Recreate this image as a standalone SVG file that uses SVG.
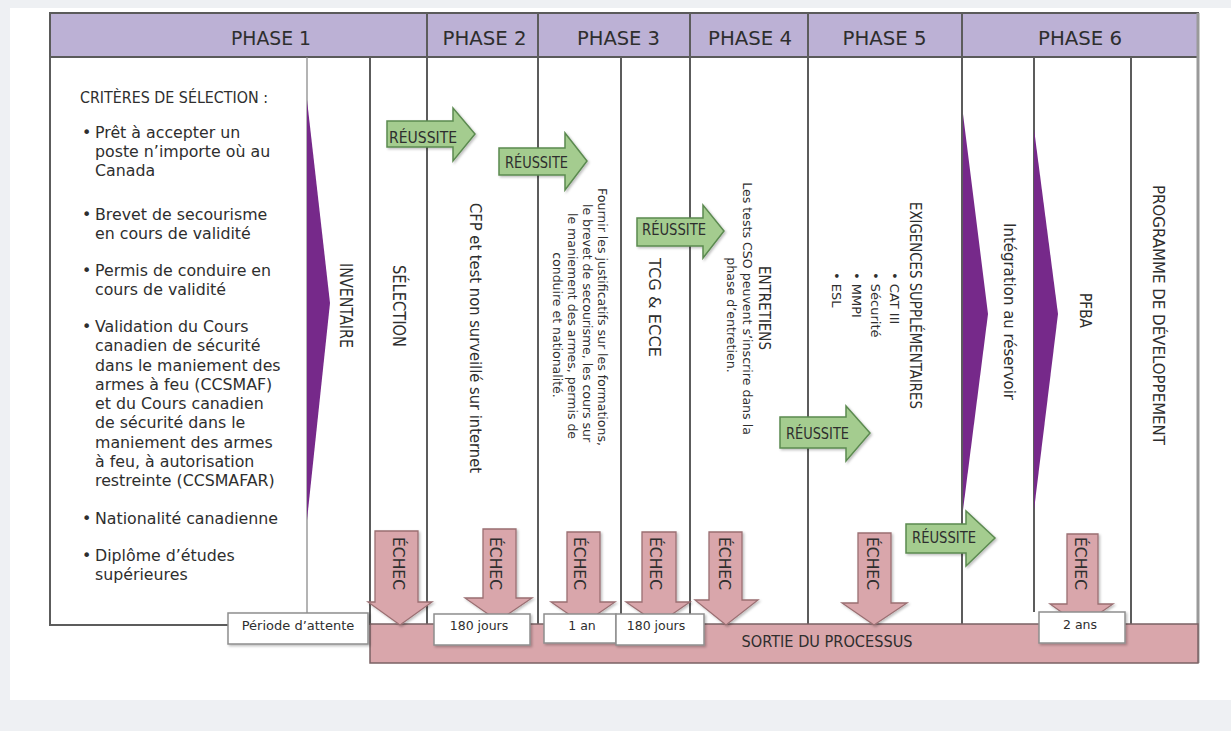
<svg xmlns="http://www.w3.org/2000/svg" width="1231" height="731" viewBox="0 0 1231 731">
<style>
.t{font-family:"DejaVu Sans","Liberation Sans",sans-serif;fill:#2e2e2e}
.ln{stroke:#5c5c5c;stroke-width:2;fill:none}
.lt{stroke:#8c8c8c;stroke-width:1.3;fill:none}
.pur{fill:#76298a}
.grn{fill:#a4cc8f;stroke:#5b8a50;stroke-width:1.5}
.pnk{fill:#d9a6ab;stroke:#9a6f72;stroke-width:1.3}
.box{fill:#ffffff;stroke:#8e8e8e;stroke-width:1.5}
.hd{font-size:20px}
.lb{font-size:15.8px}
</style>
<defs>
<filter id="sh" x="-10%" y="-10%" width="130%" height="130%"><feDropShadow dx="1.5" dy="1.5" stdDeviation="1" flood-color="#000" flood-opacity="0.25"/></filter>
</defs>
<rect x="0" y="0" width="1231" height="731" fill="#eef0f3"/>
<rect x="10" y="8" width="1221" height="692" fill="#ffffff"/>

<g id="frame">
<rect x="50" y="13" width="1148" height="44" fill="#bcb1d5" stroke="#5a5a5a" stroke-width="2"/>
<path class="ln" d="M50,57 V625 H230"/>
<line class="lt" x1="307" y1="57" x2="307" y2="613"/>
<line class="ln" x1="370" y1="57" x2="370" y2="625"/>
<line class="ln" x1="427" y1="13" x2="427" y2="625"/>
<line class="ln" x1="538" y1="13" x2="538" y2="625"/>
<line class="ln" x1="621" y1="57" x2="621" y2="614"/>
<line class="ln" x1="690" y1="13" x2="690" y2="614"/>
<line class="ln" x1="808" y1="13" x2="808" y2="625"/>
<line class="ln" x1="962" y1="13" x2="962" y2="625"/>
<line class="ln" x1="1034" y1="57" x2="1034" y2="612"/>
<line class="ln" x1="1131" y1="57" x2="1131" y2="625"/>
<line x1="1198" y1="13" x2="1198" y2="663" stroke="#9a9a9a" stroke-width="3"/>
</g>

<g id="headers">
<text class="t hd" x="271" y="45" text-anchor="middle" textLength="80" lengthAdjust="spacingAndGlyphs">PHASE 1</text>
<text class="t hd" x="484.5" y="45" text-anchor="middle" textLength="84" lengthAdjust="spacingAndGlyphs">PHASE 2</text>
<text class="t hd" x="618.5" y="45" text-anchor="middle" textLength="83" lengthAdjust="spacingAndGlyphs">PHASE 3</text>
<text class="t hd" x="750" y="45" text-anchor="middle" textLength="84" lengthAdjust="spacingAndGlyphs">PHASE 4</text>
<text class="t hd" x="884.5" y="45" text-anchor="middle" textLength="84" lengthAdjust="spacingAndGlyphs">PHASE 5</text>
<text class="t hd" x="1080" y="45" text-anchor="middle" textLength="84" lengthAdjust="spacingAndGlyphs">PHASE 6</text>
</g>

<g id="criteres">
<text class="t" x="80" y="103" font-size="16" textLength="188" lengthAdjust="spacingAndGlyphs">CRITÈRES DE SÉLECTION :</text>
<g class="t lb">
<text x="82" y="138">•</text><text x="95" y="138">Prêt à accepter un</text>
<text x="95" y="157">poste n’importe où au</text>
<text x="95" y="176">Canada</text>
<text x="82" y="220">•</text><text x="95" y="220">Brevet de secourisme</text>
<text x="95" y="239">en cours de validité</text>
<text x="82" y="276">•</text><text x="95" y="276">Permis de conduire en</text>
<text x="95" y="295">cours de validité</text>
<text x="82" y="332">•</text><text x="95" y="332">Validation du Cours</text>
<text x="95" y="351">canadien de sécurité</text>
<text x="95" y="371">dans le maniement des</text>
<text x="95" y="390">armes à feu (CCSMAF)</text>
<text x="95" y="409">et du Cours canadien</text>
<text x="95" y="428">de sécurité dans le</text>
<text x="95" y="448">maniement des armes</text>
<text x="95" y="467">à feu, à autorisation</text>
<text x="95" y="486">restreinte (CCSMAFAR)</text>
<text x="82" y="524">•</text><text x="95" y="524">Nationalité canadienne</text>
<text x="82" y="561">•</text><text x="95" y="561">Diplôme d’études</text>
<text x="95" y="580">supérieures</text>
</g>
</g>

<g id="inventaire">
<polygon class="pur" points="307,100 330,303 307,520"/>
<text class="t" transform="translate(340,263) rotate(90)" font-size="17" textLength="85" lengthAdjust="spacingAndGlyphs">INVENTAIRE</text>
</g>
<g id="selection">
<text class="t" transform="translate(393,265) rotate(90)" font-size="17" textLength="82" lengthAdjust="spacingAndGlyphs">SÉLECTION</text>
</g>
<g id="cfp">
<text class="t" transform="translate(470,203) rotate(90)" font-size="16.5" textLength="270" lengthAdjust="spacingAndGlyphs">CFP et test non surveillé sur internet</text>
</g>
<g id="justificatifs" class="t" font-size="12.5">
<text transform="translate(598,317) rotate(90)" text-anchor="middle">Fournir les justificatifs sur les formations,</text>
<text transform="translate(583,323) rotate(90)" text-anchor="middle">le brevet de secourisme, les cours sur</text>
<text transform="translate(568,326) rotate(90)" text-anchor="middle">le maniement des armes, permis de</text>
<text transform="translate(553,325) rotate(90)" text-anchor="middle">conduire et nationalité.</text>
</g>
<g id="tcg">
<text class="t" transform="translate(649,258) rotate(90)" font-size="16.5" textLength="99" lengthAdjust="spacingAndGlyphs">TCG &amp; ECCE</text>
</g>
<g id="entretiens" class="t">
<text transform="translate(759,308) rotate(90)" text-anchor="middle" font-size="16.5" textLength="84" lengthAdjust="spacingAndGlyphs">ENTRETIENS</text>
<text transform="translate(743,308.5) rotate(90)" text-anchor="middle" font-size="12.6">Les tests CSO peuvent s’inscrire dans la</text>
<text transform="translate(727,315) rotate(90)" text-anchor="middle" font-size="12.6">phase d’entretien.</text>
</g>
<g id="exigences" class="t">
<text transform="translate(910,202) rotate(90)" font-size="16.5" textLength="207" lengthAdjust="spacingAndGlyphs">EXIGENCES SUPPLÉMENTAIRES</text>
<text transform="translate(890,272) rotate(90)" font-size="13">• CAT III</text>
<text transform="translate(871,272) rotate(90)" font-size="13">• Sécurité</text>
<text transform="translate(852,272) rotate(90)" font-size="13">• MMPI</text>
<text transform="translate(832,272) rotate(90)" font-size="13">• ESL</text>
</g>
<g id="integration">
<polygon class="pur" points="963,114 988,314 963,510"/>
<text class="t" transform="translate(1004,223) rotate(90)" font-size="15" textLength="177" lengthAdjust="spacingAndGlyphs">Intégration au réservoir</text>
</g>
<g id="pfba">
<polygon class="pur" points="1034,129 1058,314 1034,510"/>
<text class="t" transform="translate(1080,293) rotate(90)" font-size="16.5" textLength="35" lengthAdjust="spacingAndGlyphs">PFBA</text>
</g>
<g id="programme">
<text class="t" transform="translate(1153,185) rotate(90)" font-size="16.5" textLength="260" lengthAdjust="spacingAndGlyphs">PROGRAMME DE DÉVELOPPEMENT</text>
</g>

<g id="sortie">
<rect x="370" y="624" width="828" height="39" fill="#d9a6ab" stroke="#7a6264" stroke-width="1.5"/>
<text class="t" x="827" y="647" font-size="15" text-anchor="middle" textLength="171" lengthAdjust="spacingAndGlyphs">SORTIE DU PROCESSUS</text>
</g>

<g id="connectors">
<g filter="url(#sh)">
<polygon class="pnk" points="375,531 418,531 418,602 432,602 400,625 368,602 375,602"/>
<polygon class="pnk" points="483,529 516,529 516,598 532,598 498,621 465,598 483,598"/>
<polygon class="pnk" points="567,532 600,532 600,602 615,602 583,624 551,602 567,602"/>
<polygon class="pnk" points="642,532 676,532 676,602 690,602 658,624 626,602 642,602"/>
<polygon class="pnk" points="709,532 742,532 742,600 758,600 726,625 695,600 709,600"/>
<polygon class="pnk" points="858,533 891,533 891,603 907,603 874,625 842,603 858,603"/>
<polygon class="pnk" points="1067,534 1098,534 1098,604 1113,604 1081,626 1050,604 1067,604"/>
</g>
<g class="t" font-size="15">
<text transform="translate(393,537) rotate(90)" textLength="53" lengthAdjust="spacingAndGlyphs">ÉCHEC</text>
<text transform="translate(490,537) rotate(90)" textLength="53" lengthAdjust="spacingAndGlyphs">ÉCHEC</text>
<text transform="translate(574,537) rotate(90)" textLength="53" lengthAdjust="spacingAndGlyphs">ÉCHEC</text>
<text transform="translate(650,537) rotate(90)" textLength="53" lengthAdjust="spacingAndGlyphs">ÉCHEC</text>
<text transform="translate(719,537) rotate(90)" textLength="53" lengthAdjust="spacingAndGlyphs">ÉCHEC</text>
<text transform="translate(867,537) rotate(90)" textLength="53" lengthAdjust="spacingAndGlyphs">ÉCHEC</text>
<text transform="translate(1075,537) rotate(90)" textLength="53" lengthAdjust="spacingAndGlyphs">ÉCHEC</text>
</g>
<g filter="url(#sh)">
<polygon class="grn" points="387,121 453,121 453,108 475,134 453,161 453,147 387,147"/>
<polygon class="grn" points="499,148 565,148 565,133 587,161 565,190 565,175 499,175"/>
<polygon class="grn" points="637,218 703,218 703,205 724,231 703,258 703,246 637,246"/>
<polygon class="grn" points="780,417 846,417 846,406 870,433 846,461 846,448 780,448"/>
<polygon class="grn" points="906,524 966,524 966,511 995,538 966,566 966,553 906,553"/>
</g>
<g class="t" font-size="16">
<text x="389" y="143" textLength="68" lengthAdjust="spacingAndGlyphs">RÉUSSITE</text>
<text x="505" y="168" textLength="63" lengthAdjust="spacingAndGlyphs">RÉUSSITE</text>
<text x="642" y="235" textLength="64" lengthAdjust="spacingAndGlyphs">RÉUSSITE</text>
<text x="786" y="439" textLength="63" lengthAdjust="spacingAndGlyphs">RÉUSSITE</text>
<text x="912" y="543" textLength="64" lengthAdjust="spacingAndGlyphs">RÉUSSITE</text>
</g>
</g>

<g id="attente">
<rect class="box" x="228" y="613" width="140" height="31" filter="url(#sh)"/>
<text class="t" x="298" y="630" font-size="13" text-anchor="middle">Période d’attente</text>
</g>
<g id="j180a">
<rect class="box" x="434" y="614" width="96" height="31" filter="url(#sh)"/>
<text class="t" x="479" y="630" font-size="12.5" text-anchor="middle">180 jours</text>
</g>
<g id="an1">
<rect class="box" x="544" y="614" width="72" height="29" filter="url(#sh)"/>
<text class="t" x="582" y="630" font-size="12.5" text-anchor="middle">1 an</text>
</g>
<g id="j180b">
<rect class="box" x="616" y="614" width="88" height="31" filter="url(#sh)"/>
<text class="t" x="656" y="630" font-size="12.5" text-anchor="middle">180 jours</text>
</g>
<g id="ans2">
<rect class="box" x="1039" y="612" width="86" height="31" filter="url(#sh)"/>
<text class="t" x="1080" y="629" font-size="12.5" text-anchor="middle">2 ans</text>
</g>
</svg>
